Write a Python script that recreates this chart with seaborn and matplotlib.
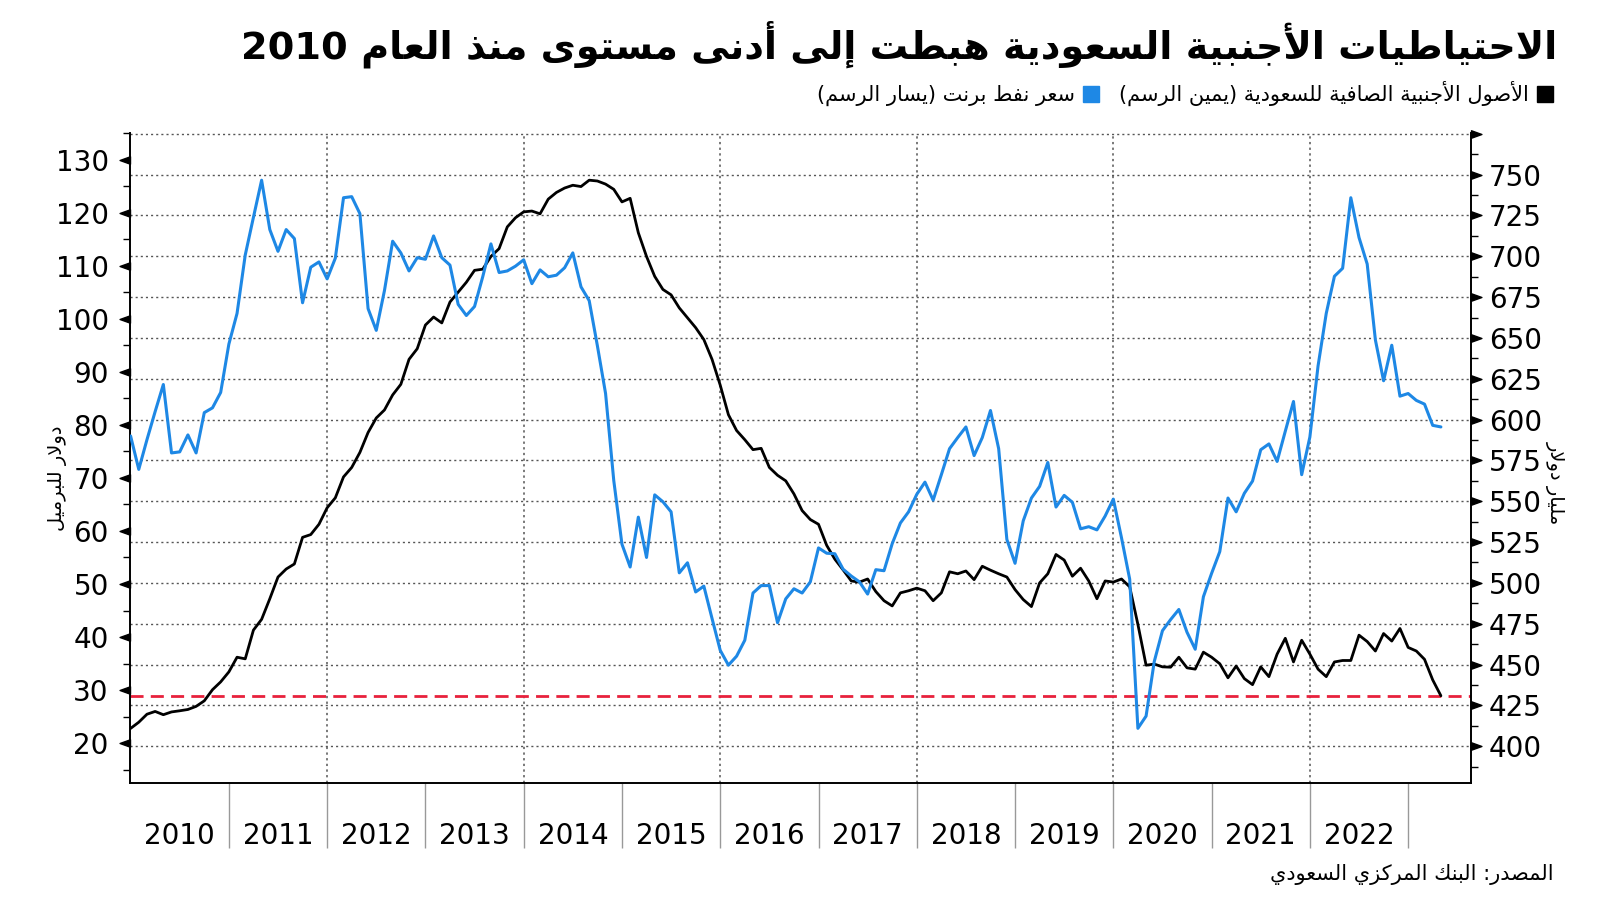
import re
import numpy as np
import pandas as pd
import matplotlib
matplotlib.use("Agg")
import matplotlib.pyplot as plt
import matplotlib.transforms as mtransforms
from matplotlib.path import Path
from matplotlib.lines import Line2D
from matplotlib.ticker import MultipleLocator, FixedLocator
import seaborn as sns

# ---------------- data ----------------
title = "الاحتياطيات الأجنبية السعودية هبطت إلى أدنى مستوى منذ العام 2010"
legend_assets = "الأصول الأجنبية الصافية للسعودية (يمين الرسم)"
legend_brent = "سعر نفط برنت (يسار الرسم)"
left_label = "دولار للبرميل"
right_label = "مليار دولار"
source = "المصدر: البنك المركزي السعودي"
years = [2010, 2011, 2012, 2013, 2014, 2015, 2016, 2017, 2018, 2019, 2020, 2021, 2022]

brent = [77.9, 71.6, 77.2, 82.5, 87.6, 74.7, 74.9, 78.1, 74.7, 82.3, 83.2, 86.1,
         95.2, 101.0, 112.0, 119.1, 126.1, 116.8, 112.7, 116.8, 115.1, 103.0, 109.7, 110.7,
         107.5, 111.4, 122.8, 123.0, 119.8, 101.9, 97.8, 105.3, 114.6, 112.4, 109.0, 111.5,
         111.2, 115.6, 111.5, 110.1, 102.7, 100.6, 102.3, 107.9, 114.1, 108.7, 109.0, 109.9,
         111.1, 106.6, 109.2, 107.9, 108.2, 109.6, 112.4, 106.0, 103.4, 94.9, 85.9, 69.5,
         57.5, 53.2, 62.6, 55.0, 66.8, 65.5, 63.6, 52.1, 54.0, 48.5, 49.6, 43.5,
         37.5, 34.7, 36.4, 39.4, 48.3, 49.7, 49.7, 42.7, 47.2, 49.1, 48.3, 50.4,
         56.8, 55.8, 55.7, 52.8, 51.5, 50.4, 48.1, 52.7, 52.5, 57.6, 61.5, 63.6,
         66.9, 69.2, 65.8, 70.6, 75.5, 77.6, 79.6, 74.2, 77.6, 82.7, 75.5, 58.4,
         53.9, 61.9, 66.2, 68.4, 72.9, 64.5, 66.7, 65.4, 60.4, 60.8, 60.2, 62.8,
         66.0, 58.7, 50.9, 22.8, 25.1, 35.4, 41.2, 43.3, 45.2, 40.9, 37.7, 47.6,
         52.0, 56.1, 66.2, 63.6, 67.1, 69.4, 75.3, 76.4, 73.1, 78.8, 84.4, 70.6,
         77.7, 91.1, 101.0, 108.0, 109.5, 122.8, 115.3, 110.3, 96.0, 88.3, 95.0, 85.4,
         85.9, 84.6, 83.9, 79.9, 79.6]

assets = [410.9, 414.7, 419.6, 421.3, 419.3, 421.0, 421.7, 422.5, 424.4, 427.8, 434.6, 439.4,
          445.5, 454.5, 453.5, 471.1, 477.7, 490.3, 503.6, 508.5, 511.6, 527.9, 529.6, 535.9,
          546.0, 552.1, 564.9, 570.7, 579.9, 592.1, 601.0, 605.9, 615.1, 621.6, 636.9, 643.4,
          657.9, 662.8, 659.2, 672.0, 678.1, 684.1, 691.4, 692.1, 699.9, 704.7, 718.0, 723.6,
          727.2, 727.7, 726.0, 735.0, 739.1, 741.8, 743.5, 742.7, 746.6, 746.1, 744.2, 741.0,
          733.3, 735.5, 714.4, 699.9, 687.7, 679.7, 676.4, 668.4, 662.3, 656.3, 649.0, 636.9,
          621.1, 603.0, 593.3, 587.7, 581.6, 582.4, 570.7, 565.9, 562.5, 554.5, 544.3, 538.8,
          535.9, 523.0, 514.5, 508.0, 501.2, 500.5, 502.4, 494.7, 489.1, 485.9, 493.9, 495.2,
          496.8, 495.2, 489.1, 493.9, 506.8, 505.6, 507.3, 502.0, 510.2, 507.8, 505.6, 503.6,
          495.9, 489.8, 485.5, 500.0, 505.6, 517.4, 514.0, 504.1, 509.0, 501.2, 490.3, 501.2,
          500.5, 502.4, 497.6, 474.6, 449.6, 450.3, 448.6, 448.4, 454.5, 448.0, 447.2, 457.6,
          454.5, 450.5, 441.9, 449.1, 441.4, 437.7, 448.6, 442.6, 456.4, 466.1, 451.6, 464.9,
          456.4, 447.2, 442.6, 451.6, 452.5, 452.5, 468.0, 464.1, 458.3, 469.0, 464.4, 472.1,
          460.5, 458.3, 453.2, 440.6, 430.9]

left_ticks = [20, 30, 40, 50, 60, 70, 80, 90, 100, 110, 120, 130]
right_ticks = [400, 425, 450, 475, 500, 525, 550, 575, 600, 625, 650, 675, 700, 725, 750, 775]
right_labels = ["400", "425", "450", "475", "500", "525", "550", "575", "600", "625",
                "650", "675", "700", "725", "750", ""]

# ---------------- Arabic shaping (visual order) ----------------
_FORMS = {}
for ch, start, n in [('ء', 0xFE80, 1), ('آ', 0xFE81, 2), ('أ', 0xFE83, 2), ('ؤ', 0xFE85, 2),
                     ('إ', 0xFE87, 2), ('ئ', 0xFE89, 4), ('ا', 0xFE8D, 2), ('ب', 0xFE8F, 4),
                     ('ة', 0xFE93, 2), ('ت', 0xFE95, 4), ('ث', 0xFE99, 4), ('ج', 0xFE9D, 4),
                     ('ح', 0xFEA1, 4), ('خ', 0xFEA5, 4), ('د', 0xFEA9, 2), ('ذ', 0xFEAB, 2),
                     ('ر', 0xFEAD, 2), ('ز', 0xFEAF, 2), ('س', 0xFEB1, 4), ('ش', 0xFEB5, 4),
                     ('ص', 0xFEB9, 4), ('ض', 0xFEBD, 4), ('ط', 0xFEC1, 4), ('ظ', 0xFEC5, 4),
                     ('ع', 0xFEC9, 4), ('غ', 0xFECD, 4), ('ف', 0xFED1, 4), ('ق', 0xFED5, 4),
                     ('ك', 0xFED9, 4), ('ل', 0xFEDD, 4), ('م', 0xFEE1, 4), ('ن', 0xFEE5, 4),
                     ('ه', 0xFEE9, 4), ('و', 0xFEED, 2), ('ى', 0xFEEF, 2), ('ي', 0xFEF1, 4)]:
    _FORMS[ch] = (start, n)
_LAMALEF = {'آ': 0xFEF5, 'أ': 0xFEF7, 'إ': 0xFEF9, 'ا': 0xFEFB}


def _shape(text):
    units = []
    i = 0
    while i < len(text):
        c = text[i]
        if c == 'ل' and i + 1 < len(text) and text[i + 1] in _LAMALEF:
            units.append(('LA', text[i + 1]))
            i += 2
        else:
            units.append(('C', c))
            i += 1

    def joins_next(u):
        return u[0] == 'C' and u[1] in _FORMS and _FORMS[u[1]][1] == 4

    def is_joining(u):
        return u[0] == 'LA' or (u[1] in _FORMS and _FORMS[u[1]][1] > 1)

    out = []
    for j, u in enumerate(units):
        prev = units[j - 1] if j > 0 else None
        nxt = units[j + 1] if j + 1 < len(units) else None
        jp = prev is not None and joins_next(prev) and is_joining(u)
        if u[0] == 'LA':
            out.append(chr(_LAMALEF[u[1]] + (1 if jp else 0)))
            continue
        c = u[1]
        if c not in _FORMS:
            out.append(c)
            continue
        start, n = _FORMS[c]
        jn = n == 4 and nxt is not None and is_joining(nxt)
        if n == 1:
            out.append(chr(start))
        elif jp and jn:
            out.append(chr(start + 3))
        elif jp:
            out.append(chr(start + 1))
        elif jn:
            out.append(chr(start + 2))
        else:
            out.append(chr(start))
    return ''.join(out)


def rtl(text):
    s = _shape(text)[::-1]
    s = re.sub(r'[0-9A-Za-z.%]+', lambda m: m.group(0)[::-1], s)
    mirror = {'(': ')', ')': '('}
    return ''.join(mirror.get(ch, ch) for ch in s)


# ---------------- figure ----------------
sns.set_style("white")
plt.rcParams['font.family'] = ['DejaVu Sans']
plt.rcParams['text.color'] = 'black'
plt.rcParams['xtick.color'] = 'black'
plt.rcParams['ytick.color'] = 'black'
plt.rcParams['xtick.labelcolor'] = 'black'
plt.rcParams['ytick.labelcolor'] = 'black'
num_font = ['Liberation Sans Narrow', 'DejaVu Sans']

BLUE = '#1e88e5'
RED = '#e8213c'

dates = pd.date_range('2010-01-01', periods=len(brent), freq='MS')
df = pd.DataFrame({'x': dates.year + (dates.month - 1) / 12.0,
                   'brent': brent, 'assets': assets})

fig = plt.figure(figsize=(16, 9.01), dpi=100)
ax = fig.add_axes([0.081, 0.131, 0.8384, 0.7214])   # assets (right scale)
ax2 = ax.twinx()                                     # brent (left scale)

sns.lineplot(data=df, x='x', y='assets', ax=ax, color='black', lw=2.0)
sns.lineplot(data=df, x='x', y='brent', ax=ax2, color=BLUE, lw=2.2)

ax.set_xlim(2009.99, 2023.64)
ax.set_ylim(377.5, 775.5)
ax2.set_ylim(12.5, 135)
ax.set_xlabel('')
ax.set_ylabel('')
ax2.set_ylabel('')

# red reference line at the latest value
ax.axhline(assets[-1], color=RED, lw=2.0, ls=(0, (4.7, 2.6)), zorder=1)

# right axis (assets)
ax.yaxis.tick_right()
ax.yaxis.set_major_locator(FixedLocator(right_ticks))
ax.set_yticklabels(right_labels)
ax.yaxis.set_minor_locator(MultipleLocator(12.5))
ax.tick_params(axis='y', which='major', length=0, pad=13, labelsize=20, labelcolor='black',
               right=True, left=False, labelright=True, labelleft=False)
ax.tick_params(axis='y', which='minor', length=5, width=1, color='black',
               direction='out', right=True, left=False)
for lab in ax.get_yticklabels():
    lab.set_family(num_font)
ax.grid(axis='y', which='major', ls=(0, (1.5, 2.2)), color='#555555', lw=1.0)

# left axis (brent)
ax2.yaxis.tick_left()
ax2.yaxis.set_major_locator(FixedLocator(left_ticks))
ax2.set_yticklabels([str(v) for v in left_ticks])
ax2.yaxis.set_minor_locator(MultipleLocator(5))
ax2.tick_params(axis='y', which='major', length=0, pad=15, labelsize=20, labelcolor='black',
                left=True, right=False, labelleft=True, labelright=False)
ax2.tick_params(axis='y', which='minor', length=5, width=1, color='black',
                direction='out', left=True, right=False)
for lab in ax2.get_yticklabels():
    lab.set_family(num_font)

# x axis: long grey separators at year starts, labels centred in each year
sep_years = years[1:] + [years[-1] + 1]
ax.xaxis.set_major_locator(FixedLocator(sep_years))
ax.xaxis.set_minor_locator(FixedLocator([y + 0.5 for y in years]))
ax.set_xticklabels([''] * len(sep_years))
ax.set_xticklabels([str(y) for y in years], minor=True)
ax.tick_params(axis='x', which='major', length=47, width=1.0, color='#999999',
               direction='out', bottom=True, top=False)
ax.tick_params(axis='x', which='minor', length=0, pad=28, labelsize=20,
               labelcolor='black', bottom=True, top=False)
for lab in ax.get_xticklabels(minor=True):
    lab.set_family(num_font)

# vertical dotted grid every two years
for y in years[2::2]:
    ax.axvline(y, color='#555555', lw=1.1, ls=(0, (1.5, 2.2)), zorder=0.5)

# spines
for s in ax2.spines.values():
    s.set_visible(False)
ax.spines['top'].set_visible(False)
ax.spines['left'].set_linestyle((0, (1, 1)))
for s in ['left', 'right', 'bottom']:
    ax.spines[s].set_color('black')
    ax.spines[s].set_linewidth(1.4)

# triangular major tick markers
tri_r = Path([(0, 0.36), (1, 0), (0, -0.36), (0, 0.36)], closed=True)
tri_l = Path([(0, 0.36), (-1, 0), (0, -0.36), (0, 0.36)], closed=True)
tr_r = mtransforms.blended_transform_factory(ax.transAxes, ax.transData)
tr_l = mtransforms.blended_transform_factory(ax2.transAxes, ax2.transData)
ax.plot(np.ones(len(right_ticks)), right_ticks, ls='', marker=tri_r, ms=15,
        color='black', transform=tr_r, clip_on=False)
ax2.plot(np.zeros(len(left_ticks)), left_ticks, ls='', marker=tri_l, ms=15,
         color='black', transform=tr_l, clip_on=False)

# ---------------- texts ----------------
fig.text(0.973, 0.951, rtl(title), ha='right', va='center', fontsize=27.5,
         fontweight='bold', color='black')

handles = [Line2D([], [], ls='', marker='s', ms=11, color=BLUE),
           Line2D([], [], ls='', marker='s', ms=11, color='black')]
fig.legend(handles, [rtl(legend_brent), rtl(legend_assets)], ncol=2, markerfirst=False,
           loc='center right', bbox_to_anchor=(0.970, 0.896), frameon=False,
           fontsize=15, handlelength=0.7, handletextpad=0.4, columnspacing=1.0,
           borderaxespad=0, borderpad=0, labelcolor='black')

fig.text(0.036, 0.469, rtl(left_label), rotation=90, ha='center', va='center', fontsize=14)
fig.text(0.972, 0.464, rtl(right_label), rotation=-90, ha='center', va='center', fontsize=14)
fig.text(0.971, 0.029, rtl(source), ha='right', va='center', fontsize=15)

fig.savefig('out.png', dpi=100)
